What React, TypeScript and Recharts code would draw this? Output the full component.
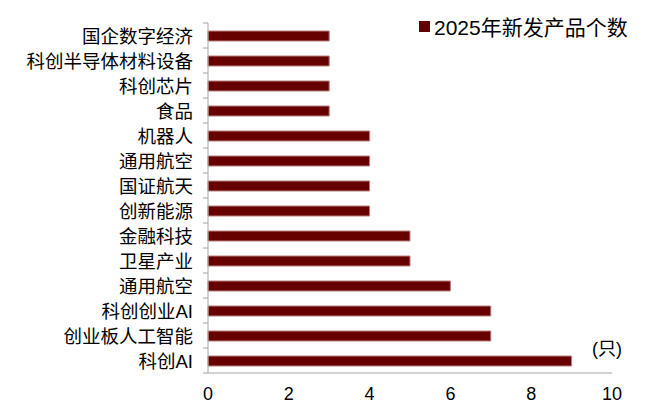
import { BarChart, Bar, XAxis, YAxis, Legend } from 'recharts'

const categories = [
  '国企数字经济',
  '科创半导体材料设备',
  '科创芯片',
  '食品',
  '机器人',
  '通用航空',
  '国证航天',
  '创新能源',
  '金融科技',
  '卫星产业',
  '通用航空',
  '科创创业AI',
  '创业板人工智能',
  '科创AI',
]
const counts = [3, 3, 3, 3, 4, 4, 4, 4, 5, 5, 6, 7, 7, 9]
const xTicks = [0, 2, 4, 6, 8, 10]
const seriesName = '2025年新发产品个数'
const unitLabel = '(只)'

const data = categories.map((c, i) => ({ key: `${i}`, category: c, count: counts[i] }))

const FONT = "'Liberation Sans', 'Noto Sans CJK SC', sans-serif"
const BAR = '#660000'
const AXIS = '#a6a6a6'

const CategoryTick = (props: any) => {
  const { x, y, payload, index, visibleTicksCount } = props
  const half = payload?.offset ?? 12.5
  const lx = x + 10
  return (
    <g>
      <line x1={lx} x2={lx + 5} y1={y - half} y2={y - half} stroke={AXIS} />
      {index === visibleTicksCount - 1 && (
        <line x1={lx} x2={lx + 5} y1={y + half} y2={y + half} stroke={AXIS} />
      )}
      <text x={x} y={y + 1} textAnchor="end" dominantBaseline="central" fontSize={18.5} fill="#000" fontFamily={FONT}>
        {categories[Number(payload.value)]}
      </text>
    </g>
  )
}

const LegendContent = () => (
  <div style={{ display: 'flex', alignItems: 'center', fontFamily: FONT, fontSize: 21, color: '#000', whiteSpace: 'nowrap' }}>
    <span style={{ display: 'inline-block', width: 11, height: 11, background: BAR, marginRight: 4 }} />
    <span>{seriesName}</span>
  </div>
)

const UnitLabel = (props: any) => {
  const vb = props.viewBox || { x: 0, y: 0, width: 0 }
  return (
    <text x={vb.x + vb.width + 10} y={vb.y - 24} textAnchor="end" dominantBaseline="central" fontSize={18} fill="#000" fontFamily={FONT}>
      {unitLabel}
    </text>
  )
}

export default function App() {
  return (
    <div style={{ margin: -8, width: 652, height: 415, background: '#fff' }}>
      <BarChart
        width={652}
        height={415}
        data={data}
        layout="vertical"
        margin={{ top: 23, right: 40, bottom: 0, left: 0 }}
      >
        <XAxis
          type="number"
          domain={[0, 10]}
          ticks={xTicks}
          height={42}
          axisLine={{ stroke: AXIS }}
          tickLine={false}
          tickMargin={8}
          tick={{ fill: '#000', fontSize: 18, fontFamily: FONT }}
          label={<UnitLabel />}
        />
        <YAxis
          type="category"
          dataKey="key"
          width={208}
          axisLine={{ stroke: AXIS }}
          tickLine={false}
          tickSize={5}
          tickMargin={10}
          interval={0}
          tick={<CategoryTick />}
        />
        <Legend
          layout="horizontal"
          verticalAlign="middle"
          align="center"
          content={<LegendContent />}
          wrapperStyle={{ position: 'absolute', top: 11, left: 419, width: 'auto' }}
        />
        <Bar dataKey="count" name={seriesName} fill={BAR} stroke="#b98080" strokeWidth={1} barSize={10} isAnimationActive={false} />
      </BarChart>
    </div>
  )
}
